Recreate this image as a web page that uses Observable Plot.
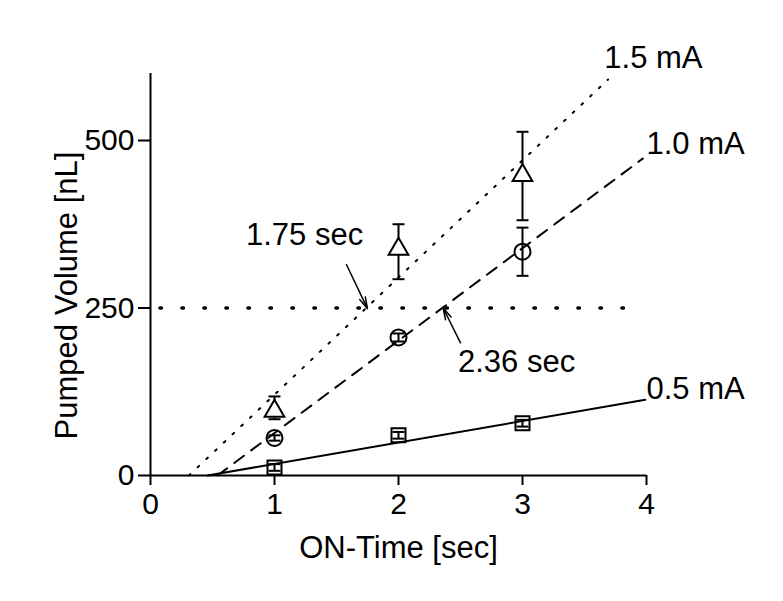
<!DOCTYPE html>
<html><head><meta charset="utf-8">
<script src="https://cdn.jsdelivr.net/npm/d3@7"></script>
<script src="https://cdn.jsdelivr.net/npm/@observablehq/plot@0.6"></script>
<style>body{margin:0;background:#fff;}</style>
</head><body><div id="chart"></div>
<script>
// measured points (ON-Time [sec] vs Pumped Volume [nL])
const onTimes = [1, 2, 3];
const vol05 = [12, 60, 78];
const lo05 = [7, 55, 73];
const hi05 = [17, 65, 83];
const vol10 = [56, 206, 334];
const lo10 = [52, 200, 298];
const hi10 = [60, 212, 370];
const vol15 = [96, 338, 448];
const lo15 = [84, 293, 381];
const hi15 = [118, 375, 513];

// linear fits (endpoints)
const fitX05 = [0.46, 3.99], fitY05 = [0, 113];
const fitX10 = [0.54, 3.97], fitY10 = [0, 473];
const fitX15 = [0.31, 3.69], fitY15 = [0, 591];

// threshold line
const thresholdVol = [250];
const thresholdX = [0.08, 3.83];

// annotations
const seriesLabels = ["1.5 mA", "1.0 mA", "0.5 mA"];
const seriesLabelX = [3.66, 4.0, 4.0];
const seriesLabelY = [608, 480, 114];
const timeLabels = ["1.75 sec", "2.36 sec"];
const timeLabelX = [0.77, 2.48];
const timeLabelY = [344, 155];
const arrowTailX = [1.58, 2.50], arrowTailY = [315, 198];
const arrowTipX = [1.75, 2.36], arrowTipY = [249, 250];

const xTicks = [0, 1, 2, 3, 4];
const yTicks = [0, 250, 500];

const pts = (v, lo, hi) => onTimes.map((x, i) => ({x, y: v[i], lo: lo[i], hi: hi[i]}));
const fit = (xs, ys) => xs.map((x, i) => ({x, y: ys[i]}));
const d05 = pts(vol05, lo05, hi05), d10 = pts(vol10, lo10, hi10), d15 = pts(vol15, lo15, hi15);
const allPts = [...d05, ...d10, ...d15];

const cap = {draw(ctx, size) { ctx.moveTo(-6, 0); ctx.lineTo(6, 0); }};

const labels = seriesLabels.map((t, i) => ({t, x: seriesLabelX[i], y: seriesLabelY[i]}));
const tlabels = timeLabels.map((t, i) => ({t, x: timeLabelX[i], y: timeLabelY[i]}));
const arrows = timeLabels.map((t, i) => ({x1: arrowTailX[i], y1: arrowTailY[i], x2: arrowTipX[i], y2: arrowTipY[i]}));

const chart = Plot.plot({
  width: 783, height: 601,
  marginLeft: 150, marginRight: 137, marginTop: 73, marginBottom: 126,
  style: {fontFamily: "'Liberation Sans', Arial, sans-serif", color: "black", background: "white"},
  x: {domain: [0, 4]},
  y: {domain: [0, 600]},
  marks: [
    Plot.axisX({ticks: xTicks, tickFormat: d3.format("d"), tickSize: 10, tickPadding: 7, fontSize: 30, label: null, strokeWidth: 2}),
    Plot.axisY({ticks: yTicks, tickFormat: d3.format("d"), tickSize: 12, tickPadding: 4, fontSize: 30, label: null, strokeWidth: 2}),
    Plot.text(["ON-Time [sec]"], {frameAnchor: "bottom", dy: 82, fontSize: 31, lineAnchor: "bottom"}),
    Plot.text(["Pumped Volume [nL]"], {frameAnchor: "left", textAnchor: "middle", rotate: -90, dx: -83, dy: 21, fontSize: 31, lineAnchor: "middle"}),
    Plot.ruleY([0], {strokeWidth: 2}),
    Plot.ruleX([0], {strokeWidth: 2}),
    // threshold
    Plot.ruleY(thresholdVol, {x1: thresholdX[0], x2: thresholdX[1], strokeWidth: 3.5, strokeDasharray: "1.5,20.5", strokeLinecap: "round"}),
    // fits
    Plot.line(fit(fitX05, fitY05), {x: "x", y: "y", strokeWidth: 2}),
    Plot.line(fit(fitX10, fitY10), {x: "x", y: "y", strokeWidth: 2, strokeDasharray: "12,9"}),
    Plot.line(fit(fitX15, fitY15), {x: "x", y: "y", strokeWidth: 2, strokeDasharray: "2,10"}),
    // error bars
    Plot.ruleX(allPts, {x: "x", y1: "lo", y2: "hi", strokeWidth: 2}),
    Plot.dot(allPts, {x: "x", y: "lo", symbol: cap, stroke: "black", strokeWidth: 2}),
    Plot.dot(allPts, {x: "x", y: "hi", symbol: cap, stroke: "black", strokeWidth: 2}),
    // markers
    Plot.dot(d05, {x: "x", y: "y", symbol: "square", r: 7.9, stroke: "black", strokeWidth: 2, fill: "none"}),
    Plot.dot(d10, {x: "x", y: "y", symbol: "circle", r: 8, stroke: "black", strokeWidth: 2, fill: "none"}),
    Plot.dot(d15, {x: "x", y: "y", symbol: "triangle", r: 7.3, stroke: "black", strokeWidth: 2, fill: "white"}),
    // annotations
    Plot.arrow(arrows, {x1: "x1", y1: "y1", x2: "x2", y2: "y2", strokeWidth: 1.5, headLength: 12, headAngle: 30}),
    Plot.text(labels, {x: "x", y: "y", text: "t", textAnchor: "start", lineAnchor: "bottom", fontSize: 31}),
    Plot.text(tlabels, {x: "x", y: "y", text: "t", textAnchor: "start", lineAnchor: "bottom", fontSize: 31})
  ]
});
document.getElementById("chart").appendChild(chart);
</script>
</body></html>
